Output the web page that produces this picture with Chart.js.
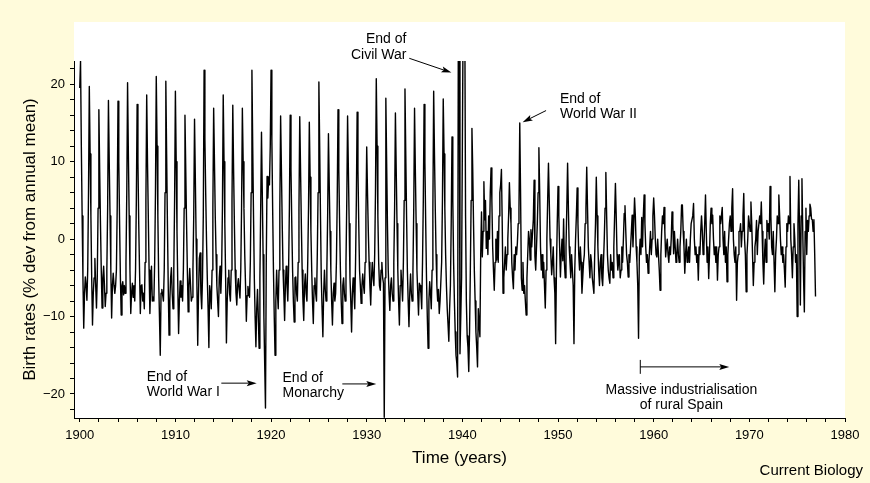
<!DOCTYPE html>
<html>
<head>
<meta charset="utf-8">
<script src="https://cdn.jsdelivr.net/npm/chart.js@4.4.1/dist/chart.umd.min.js"></script>
<style>
  html, body { margin: 0; padding: 0; background: #fffbdb; }
  canvas { display: block; }
</style>
</head>
<body>
<canvas id="chart" width="870" height="483"></canvas>
<script>
/* global Chart */

// Monthly birth rates, % deviation from the annual mean, Jan 1900 - Dec 1976.
// One row per year, January first.
const FIRST_YEAR = 1900;

const births1900s = [
    19.5, 23, 12, 3, -5, -11.5, -7, -4.9, -6, -7.9, -4, 6,
    19.7, 11, 3, -5, -11.1, -7, -5, -2.5, -6, -8.9, -5, 4,
    16.7, 9, 2, -4, -8.9, -5, -3.5, -6, -8.7, -7, -4, 4,
    17.9, 10, 3, -4, -10.2, -6, -4.4, -6, -7, -6, -4, 4,
    17.8, 10, 2, -5, -9.8, -6, -5.5, -7.2, -6, -7, -3, 6,
    20.2, 11, 3, -4, -9.6, -7, -5.7, -7.5, -6, -8, -4, 5,
    17.4, 10, 2, -4, -9.6, -6, -5.9, -8, -7, -9, -3, 5,
    18.6, 10, 3, -4, -9.6, -6, -3.5, -8, -7.5, -8, -3, 6,
    21.0, 12, 3, -5, -10, -15.0, -7, -6.5, -7.2, -8, -4, 6,
    20.4, 11, 2, -6, -12.4, -8, -5, -3.7, -7, -9, -4, 5,
];

const births1910s = [
    19.1, 10, 1, -6, -12.2, -8, -5.4, -7.5, -6, -8, -4, 4,
    16.0, 9, 2, -4, -9.4, -6, -3.8, -6, -8, -7.5, -4, 3,
    15.5, 8, 0, -6, -13.7, -7, -2.5, -1.8, -7, -9, -5, 3,
    21.8, 13, 6, 0, -5, -9, -14.0, -6, -7, -9, -4, 4,
    16.9, 10, 3, -2, -6, -8, -10.0, -5, -3.5, -7, -4, 4,
    18.6, 10, 2, -5, -13.4, -8, -5, -4, -7, -8, -4, 5,
    17.3, 9, 2, -4, -7, -8.5, -6, -5.1, -6.5, -7.6, -4, 4,
    16.9, 10, 4, -2, -6, -10.6, -7.3, -6.1, -7, -7.5, -3, 6,
    21.8, 12, 3, -5, -10, -13.9, -9, -6.5, -10, -14.1, -5, 4,
    13.8, 6, -2, -10, -16, -21.8, -3, 8.1, 5.3, 8, 7, 12,
];

const births1920s = [
    21.8, 13, 4, -4, -10, -15.0, -8, -4, -7, -9, -4, 4,
    15.9, 9, 2, -4, -7, -10.5, -6, -3.5, -6, -8, -4, 4,
    16.0, 9, 2, -4, -8, -10.7, -5, -4.9, -7, -8, -3, 4,
    15.8, 9, 2, -4, -8, -10.5, -6, -4.5, -7, -8, -3, 4,
    15.1, 8, 1, -4, -8, -10.9, -6, -5, -7, -8, -2, 6,
    20.3, 12, 3, -5, -9, -12.6, -7, -4, -6.5, -8, -4, 3,
    13.6, 7, 1, -4, -8, -11.1, -7, -5.7, -8, -7, -3, 5,
    16.7, 9, 2, -4, -8, -10.9, -6, -5, -7, -8, -3, 5,
    15.9, 9, 2, -5, -8, -12.0, -7, -5, -7, -9, -3, 5,
    16.4, 9, 2, -4, -6, -8.3, -6, -4.5, -6, -7, -3, 3,
];

const births1930s = [
    11.9, 6, 1, -3, -6, -8.5, -5, -3, -5, -6, -2, 6,
    20.7, 12, 3, -3, -6, -6.6, -4, -3, -5, -5.7, -23, -5,
    18.2, 10, 2, -4, -7, -9.2, -6, -5, -7, -8, -3, 4,
    16.3, 9, 2, -4, -8, -11.1, -6, -4, -6, -8, -3, 5,
    19.4, 11, 3, -4, -8, -11.3, -7, -4.5, -7, -8, -4, 4,
    16.9, 9, 2, -4, -7, -9.8, -5.7, -6, -7, -9, -3, 5,
    17.4, 10, 2, -5, -10, -14.1, -8, -5.5, -7, -9, -4, 4,
    19.1, 11, 4, -2, -6, -8, -6.5, -9.6, -8, -8, -3, 5,
    18.1, 11, 4, -2, -6, -9, -11, -13.2, -9, -6, 2, 13.2,
    5, -3, -8, -12, -15, -16, -17.8, 30, 30, -14.8, -10, -5,
];

const births1940s = [
    12, 30, 30, 30, 3, -8, -12.5, -14, -17.1, -12, -4, 5,
    14.3, 9, 2, -4, -8, -12, -14, -16.5, -9, -11, -12.6, -2,
    3.5, -2.3, 1, 7.4, 2.5, 5, -1.2, 1, -2, 3, 0, 6,
    9.2, 5, -1, -4, -6.6, -3, 0, -2.7, 1, -3, 3, 6,
    7, 9.0, 2, -7, -5, -3, -1, -4, -2, 0, 3, 7.3,
    4, 2, -3, -5, -6.4, -2, -4, -1, -2, -0.5, 2, 4,
    15.0, 6, -5, -6.6, -3, -7, -6, -8, -9.8, -5, -2, 1,
    0, -2.7, 1.2, -1, 0.8, 2.5, 7.6, -2.2, -4, -1, 2, 6,
    11.8, 6, -1, -4, -2, -5, -3, -6, -8.9, -4, 0, 5,
    9.8, 5, 0, -2, -4.6, -3, -1, -5, -7, -13.5, -4, 2,
];

const births1950s = [
    6.8, 3, -1, -4.9, -2, 0, -2.8, 2.6, -3, -5, -1, 4,
    9.8, 4, -1, -3, -5, -2, -4, -6, -13.5, -4, 0, 3,
    6.6, 2, -2, -4, -1, -3, -7.0, -5, -3, -2, 2, 4,
    9.3, 4, -1, -3, -5, -2, -3, -5, -6, -7.0, -2, 2,
    8.0, 3, -1, -4, -6, -3, -2, -5, -6, -3, 0, 4,
    8.6, 3, -2, -4, -5, -5.7, -2, -4, -3, -5, -1, 3,
    7.2, 3, -2, -4, -3, -2, -5, -4, -1, -3, 0, 3.3,
    4.3, 1, -2, -3, -4.9, -2, -3, -1, 1, 3.1, -1, 2,
    5.3, 3, -1, -3, -6, -12.8, -2, 0, -2, 2.8, -1, 3,
    5.7, 2, -1, -3, -2, -4.4, -3, -1, 1, -2, 0, 3,
];

const births1960s = [
    5.3, 3, 0, -2, -2.3, 0, -2, -4, -6.6, -2, 1, 3,
    2, 4.1, 1, -2.3, -1, 0, -2, -3, -1, -2, 0, 3.5,
    2, -1.9, 1, -1, -3, -2, 0, -2, -3, -1, 1, 4.4,
    4.4, 1, -1, -4.4, -2, 0, -3, -2, -1, -3, 0, 2,
    2, 3, 4.6, 0, -2, -1, -3, -2, -5.3, -1, -2, 1,
    3, 1, -2, -1, 2, 5.7, 1, -3, -1, -5.1, -2, 2,
    4, 2, 3.1, 0, -2, -1, -3, -1, -5.3, -2, -1, 3,
    2, 3, 4.1, 0, -2, 1, -3, -1, -5.5, -2, 0, 2,
    3, 1, 4, 6.5, 0, -2, -3, -1, -7.9, -3, -2, 1,
    1, 2, -1, 1, 3, 5.9, 0, -2, -6.8, -2, 0, 3,
];

const births1970s = [
    2, 1, 4.8, 2, -2, -6.0, -3, -1, 0, 2.4, -2, 1,
    1, 3, 2, 4.8, 1, -3, -5.8, -2, 0, -3, 2.4, 1,
    2, 0, 6.8, 3, -1, -2, 1, -3, -6.8, -2, 0, 3,
    2, 5.7, 3, 0, -2, -1, -3, -2, -4, -6.2, -1, 2,
    1, 3, 2, 8.1, 0, -2, -5, -1, 2, 0, -3, -2,
    -10.0, 2, 7.6, 1, -8.5, 3, 7.8, 1, -5, -9.4, 1, 4,
    -2, 2.4, 1, 3, 4.5, 4, 2.6, 2.5, 1, 2.5, -2, -7.4,
];

const X_LABELS = [1900, 1910, 1920, 1930, 1940, 1950, 1960, 1970, 1980];
const Y_LABELS = [-20, -10, 0, 10, 20];

const PAPER_COLOR = "#fffbdb",
    LINE_COLOR = "#000000",
    FONT_FAMILY = "'Liberation Sans', Arial, Helvetica, sans-serif",
    PANEL_TOP = 22;

// annotation texts, anchored in data space (year, value of first line)
const NOTES = [
    { lines: ["End of", "Civil War"], year: 1934.15, value: 25.8, align: "right" },
    { lines: ["End of", "World War II"], year: 1950.2, value: 18.1, align: "left" },
    { lines: ["End of", "World War I"], year: 1907.0, value: -17.8, align: "left" },
    { lines: ["End of", "Monarchy"], year: 1921.2, value: -17.9, align: "left" },
    { lines: ["Massive industrialisation", "of rural Spain"], year: 1962.9, value: -19.5, align: "center" },
];

const ARROWS = [
    { from: [1934.45, 23.35], to: [1938.85, 21.5] },
    { from: [1948.75, 16.6], to: [1946.3, 15.1] },
    { from: [1914.8, -18.6], to: [1918.5, -18.6] },
    { from: [1927.45, -18.7], to: [1931.0, -18.7] },
    { from: [1958.6, -16.5], to: [1967.9, -16.5], bar: 0.9 },
];

function buildPoints() {
    const series = [].concat(births1900s, births1910s, births1920s, births1930s,
        births1940s, births1950s, births1960s, births1970s);
    return series.map((v, i) => ({ x: FIRST_YEAR + i / 12, y: v }));
}

function stepTicks(from, to, step) {
    const ticks = [];
    for (let v = from; v <= to; v += step) {
        ticks.push({ value: v });
    }
    return ticks;
}

function drawArrow(ctx, x1, y1, x2, y2) {
    const angle = Math.atan2(y2 - y1, x2 - x1),
        len = 10,
        half = 3;
    ctx.beginPath();
    ctx.moveTo(x1, y1);
    ctx.lineTo(x2 - Math.cos(angle) * len * 0.8, y2 - Math.sin(angle) * len * 0.8);
    ctx.stroke();
    ctx.beginPath();
    ctx.moveTo(x2, y2);
    ctx.lineTo(x2 - Math.cos(angle) * len - Math.sin(angle) * half,
        y2 - Math.sin(angle) * len + Math.cos(angle) * half);
    ctx.lineTo(x2 - Math.cos(angle) * len * 0.8, y2 - Math.sin(angle) * len * 0.8);
    ctx.lineTo(x2 - Math.cos(angle) * len + Math.sin(angle) * half,
        y2 - Math.sin(angle) * len - Math.cos(angle) * half);
    ctx.closePath();
    ctx.fill();
}

const paperPlugin = {
    id: "paper",
    beforeDraw(chart) {
        const { ctx, chartArea } = chart;
        ctx.save();
        ctx.fillStyle = PAPER_COLOR;
        ctx.fillRect(0, 0, chart.width, chart.height);
        ctx.fillStyle = "#ffffff";
        ctx.fillRect(chartArea.left, PANEL_TOP, chartArea.right - chartArea.left, chartArea.bottom - PANEL_TOP);
        ctx.restore();
    },
};

const notesPlugin = {
    id: "notes",
    afterDraw(chart) {
        const { ctx } = chart,
            xs = chart.scales.x,
            ys = chart.scales.y;
        ctx.save();
        ctx.fillStyle = "#000";
        ctx.strokeStyle = "#000";
        ctx.lineWidth = 1;
        ctx.font = "14px " + FONT_FAMILY;
        ctx.textBaseline = "middle";
        NOTES.forEach((note) => {
            const x = xs.getPixelForValue(note.year),
                y = ys.getPixelForValue(note.value);
            ctx.textAlign = note.align;
            note.lines.forEach((line, i) => ctx.fillText(line, x, y + i * 15.5));
        });
        ARROWS.forEach((a) => {
            const x1 = xs.getPixelForValue(a.from[0]),
                y1 = ys.getPixelForValue(a.from[1]),
                x2 = xs.getPixelForValue(a.to[0]),
                y2 = ys.getPixelForValue(a.to[1]);
            drawArrow(ctx, x1, y1, x2, y2);
            if (a.bar) {
                ctx.beginPath();
                ctx.moveTo(x1, ys.getPixelForValue(a.from[1] + a.bar));
                ctx.lineTo(x1, ys.getPixelForValue(a.from[1] - a.bar));
                ctx.stroke();
            }
        });
        ctx.font = "15px " + FONT_FAMILY;
        ctx.textAlign = "right";
        ctx.fillText("Current Biology", chart.width - 7, chart.height - 12);
        ctx.restore();
    },
};

function axisLabel(labels) {
    return (value) => {
        if (!labels.includes(value)) {
            return "";
        }
        return value < 0 ? "\u2212" + Math.abs(value) : String(value);
    };
}

Chart.defaults.font.family = FONT_FAMILY;
Chart.defaults.color = "#000";

new Chart(document.getElementById("chart").getContext("2d"), {
    type: "line",
    data: {
        datasets: [{
            data: buildPoints(),
            borderColor: LINE_COLOR,
            borderWidth: 1.4,
            borderJoinStyle: "round",
            pointRadius: 0,
            tension: 0,
            fill: false,
        }],
    },
    options: {
        responsive: false,
        animation: false,
        devicePixelRatio: 1,
        layout: {
            padding: { top: 61, right: 25, bottom: 0, left: 0 },
        },
        plugins: {
            legend: { display: false },
            tooltip: { enabled: false },
        },
        scales: {
            x: {
                type: "linear",
                min: 1899.4,
                max: 1980,
                afterBuildTicks: (scale) => { scale.ticks = stepTicks(1900, 1980, 2); },
                afterFit: (scale) => { scale.height = 65; },
                grid: { drawOnChartArea: false, tickLength: 4, color: "#000" },
                border: { color: "#000", width: 1 },
                ticks: {
                    autoSkip: false,
                    maxRotation: 0,
                    padding: 6,
                    font: { size: 13 },
                    callback: axisLabel(X_LABELS),
                },
                title: {
                    display: true,
                    text: "Time (years)",
                    font: { size: 17 },
                    padding: { top: 0, bottom: 14 },
                },
            },
            y: {
                min: -23.1,
                max: 23,
                afterBuildTicks: (scale) => { scale.ticks = stepTicks(-22, 22, 2); },
                afterFit: (scale) => { scale.width = 74; },
                grid: { drawOnChartArea: false, tickLength: 4, color: "#000" },
                border: { color: "#000", width: 1 },
                ticks: {
                    autoSkip: false,
                    padding: 5,
                    font: { size: 13 },
                    callback: axisLabel(Y_LABELS),
                },
                title: {
                    display: true,
                    text: "Birth rates (% dev from annual mean)",
                    font: { size: 17 },
                    padding: { top: 20, bottom: 0 },
                },
            },
        },
    },
    plugins: [paperPlugin, notesPlugin],
});
</script>
</body>
</html>
